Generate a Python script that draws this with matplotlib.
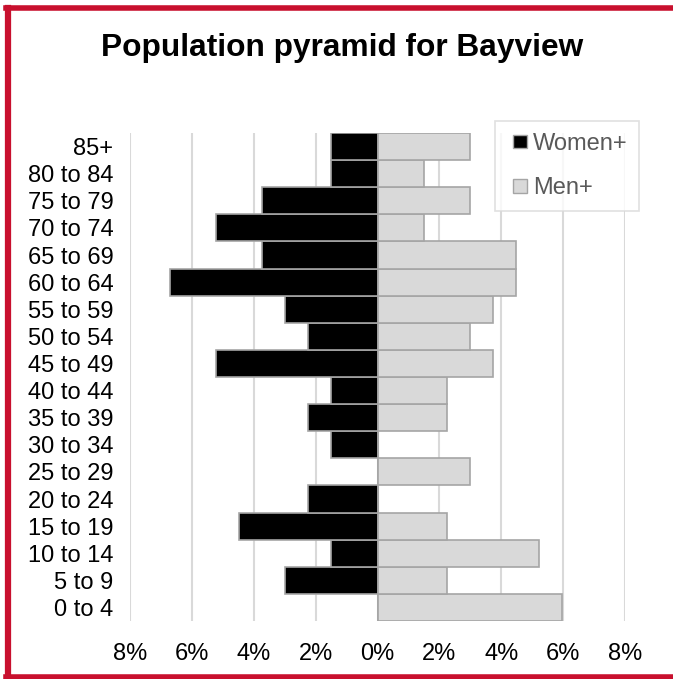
import matplotlib
matplotlib.use("Agg")
import matplotlib.pyplot as plt
import matplotlib.patches as mpatches
import matplotlib.ticker as ticker
from matplotlib.legend_handler import HandlerPatch

age_groups = ["0 to 4", "5 to 9", "10 to 14", "15 to 19", "20 to 24", "25 to 29",
              "30 to 34", "35 to 39", "40 to 44", "45 to 49", "50 to 54", "55 to 59",
              "60 to 64", "65 to 69", "70 to 74", "75 to 79", "80 to 84", "85+"]
women = [0.0, 2.99, 1.49, 4.48, 2.24, 0.0, 1.49, 2.24, 1.49, 5.22, 2.24, 2.99,
         6.72, 3.73, 5.22, 3.73, 1.49, 1.49]
men = [5.97, 2.24, 5.22, 2.24, 0.0, 2.99, 0.0, 2.24, 2.24, 3.73, 2.99, 3.73,
       4.48, 4.48, 1.49, 2.99, 1.49, 2.99]
x_ticks = [-8, -6, -4, -2, 0, 2, 4, 6, 8]

plt.rcParams['font.family'] = ['Liberation Sans', 'DejaVu Sans']

fig = plt.figure(figsize=(6.73, 6.79), dpi=100)
ax = fig.add_axes([130 / 673, 1 - 621 / 679, 495 / 673, 488 / 679])

pos = list(range(len(age_groups)))
ax.barh(pos, [-w for w in women], height=1.0, color='#000000',
        edgecolor='#A5A5A5', linewidth=1.2, zorder=3, label='Women+')
ax.barh(pos, men, height=1.0, color='#D9D9D9',
        edgecolor='#A5A5A5', linewidth=1.2, zorder=3, label='Men+')

ax.set_xlim(-8, 8)
ax.set_ylim(-0.5, len(age_groups) - 0.5)
ax.set_yticks(pos)
ax.set_yticklabels(age_groups)
ax.set_xticks(x_ticks)
ax.xaxis.set_major_formatter(ticker.FuncFormatter(lambda v, p: f"{abs(int(round(v)))}%"))
ax.tick_params(axis='both', length=0, labelsize=17, colors='#000000')
ax.tick_params(axis='x', pad=16)
ax.tick_params(axis='y', pad=12)
for s in ax.spines.values():
    s.set_visible(False)
ax.grid(axis='x', color='#D9D9D9', linewidth=1.5, zorder=0)
ax.set_axisbelow(True)

fig.text(342 / 673, 1 - 48 / 679, "Population pyramid for Bayview",
         ha='center', va='center', fontsize=22.8, fontweight='bold')


# small square marker sitting at the right of the handle box
def square(legend, orig_handle, xdescent, ydescent, width, height, fontsize):
    s = height * 0.95
    return mpatches.Rectangle((-xdescent + width - s, -ydescent + (height - s) / 2), s, s)


handles = [mpatches.Patch(facecolor='#000000', edgecolor='#A5A5A5', label='Women+'),
           mpatches.Patch(facecolor='#D9D9D9', edgecolor='#A5A5A5', label='Men+')]
leg = fig.legend(handles=handles, loc='upper left',
                 bbox_to_anchor=(495 / 673, 1 - 121 / 679),
                 fontsize=17, frameon=True, fancybox=False,
                 handler_map={mpatches.Patch: HandlerPatch(patch_func=square)},
                 handlelength=0.85, handleheight=0.55, handletextpad=0.25,
                 labelspacing=0.95, borderpad=0.5, borderaxespad=0)
leg.get_frame().set_edgecolor('#D9D9D9')
leg.get_frame().set_linewidth(1.2)
for t in leg.get_texts():
    t.set_color('#595959')

# red frame round the chart (right side runs off the image)
red = '#C8102E'
fig.add_artist(plt.Line2D([8 / 673, 8 / 673], [1 - 8 / 679, 1 - 677 / 679],
                          transform=fig.transFigure, color=red, linewidth=4.5))
fig.add_artist(plt.Line2D([6 / 673, 1], [1 - 8 / 679, 1 - 8 / 679],
                          transform=fig.transFigure, color=red, linewidth=4.0))
fig.add_artist(plt.Line2D([6 / 673, 1], [1 - 677 / 679, 1 - 677 / 679],
                          transform=fig.transFigure, color=red, linewidth=4.0))

fig.savefig("out.png", dpi=100)
